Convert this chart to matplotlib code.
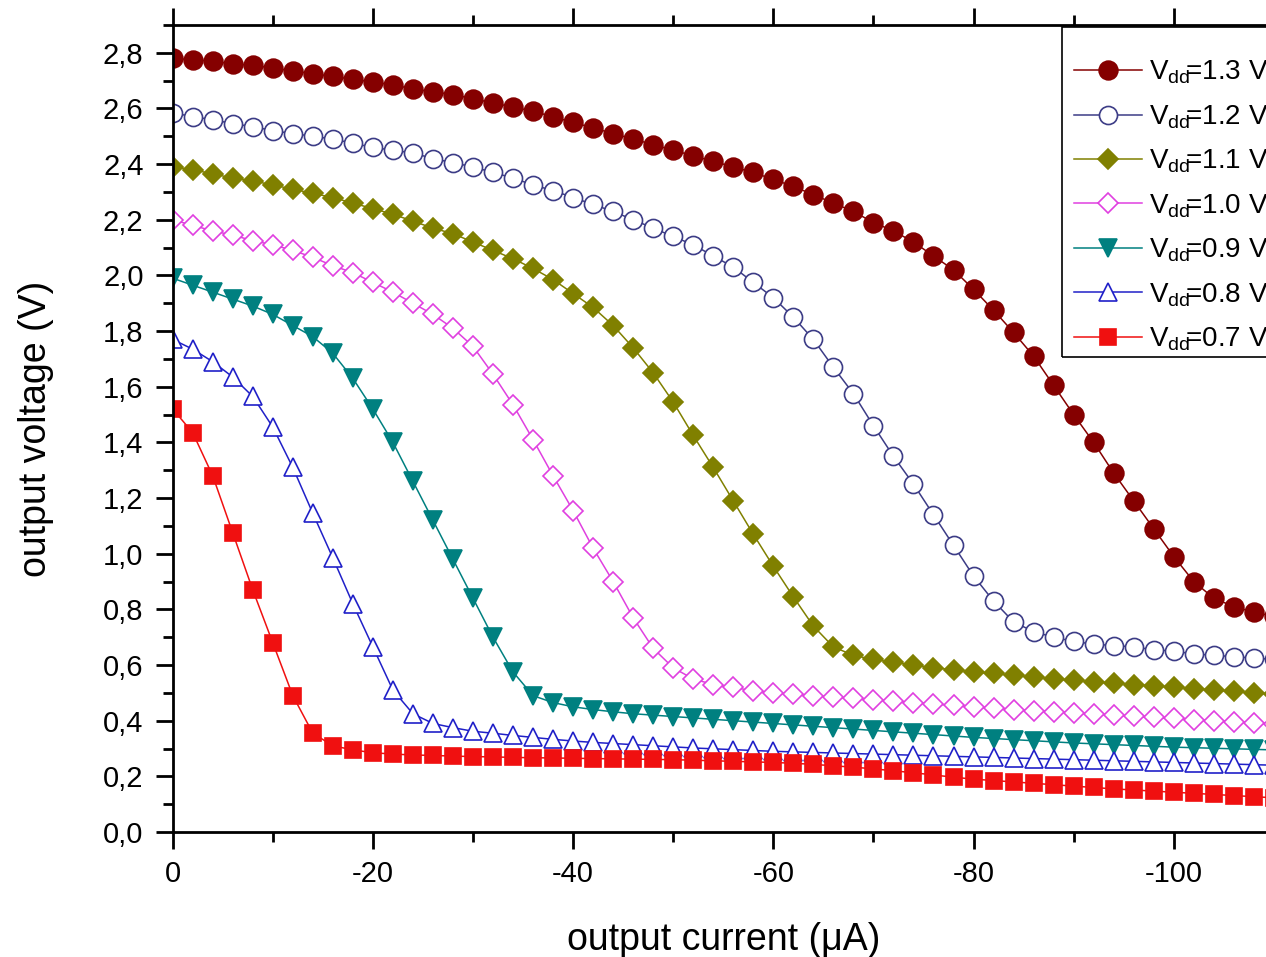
import matplotlib
matplotlib.use('Agg')
import matplotlib.pyplot as plt
from matplotlib.patches import Rectangle
from matplotlib.ticker import MultipleLocator, FixedLocator, FixedFormatter

plt.rcParams['font.family'] = ['Liberation Sans', 'DejaVu Sans']
plt.rcParams['mathtext.default'] = 'regular'
plt.rcParams['axes.unicode_minus'] = False

# output current grid (uA), one point every 2 uA
current = list(range(0, -112, -2))

# output voltage (V)
v13 = [2.78, 2.775, 2.77, 2.76, 2.755, 2.745, 2.735, 2.725, 2.715, 2.705,
       2.695, 2.685, 2.67, 2.66, 2.65, 2.635, 2.62, 2.605, 2.59, 2.57,
       2.55, 2.53, 2.51, 2.49, 2.47, 2.45, 2.43, 2.41, 2.39, 2.37,
       2.345, 2.32, 2.29, 2.26, 2.23, 2.19, 2.16, 2.12, 2.07, 2.02,
       1.95, 1.875, 1.795, 1.71, 1.605, 1.50, 1.40, 1.29, 1.19, 1.09,
       0.99, 0.90, 0.84, 0.81, 0.79, 0.775]
v12 = [2.585, 2.57, 2.56, 2.545, 2.535, 2.52, 2.51, 2.50, 2.49, 2.475,
       2.46, 2.45, 2.44, 2.42, 2.405, 2.39, 2.37, 2.35, 2.325, 2.305,
       2.28, 2.255, 2.23, 2.20, 2.17, 2.14, 2.11, 2.07, 2.03, 1.975,
       1.92, 1.85, 1.77, 1.67, 1.575, 1.46, 1.35, 1.25, 1.14, 1.03,
       0.92, 0.83, 0.755, 0.72, 0.70, 0.685, 0.675, 0.67, 0.665, 0.655,
       0.65, 0.64, 0.635, 0.63, 0.625, 0.62]
v11 = [2.39, 2.38, 2.365, 2.35, 2.34, 2.325, 2.31, 2.295, 2.28, 2.26,
       2.24, 2.22, 2.195, 2.17, 2.15, 2.12, 2.09, 2.06, 2.025, 1.985,
       1.935, 1.885, 1.82, 1.74, 1.65, 1.545, 1.425, 1.31, 1.19, 1.07,
       0.955, 0.845, 0.74, 0.665, 0.635, 0.62, 0.61, 0.60, 0.59, 0.583,
       0.575, 0.57, 0.563, 0.557, 0.55, 0.545, 0.54, 0.535, 0.53, 0.525,
       0.52, 0.515, 0.51, 0.505, 0.50, 0.495]
v10 = [2.20, 2.18, 2.16, 2.145, 2.125, 2.11, 2.09, 2.065, 2.035, 2.01,
       1.975, 1.94, 1.90, 1.86, 1.81, 1.745, 1.645, 1.535, 1.41, 1.28,
       1.155, 1.02, 0.90, 0.77, 0.66, 0.59, 0.55, 0.53, 0.52, 0.507,
       0.50, 0.495, 0.49, 0.485, 0.48, 0.475, 0.47, 0.465, 0.46, 0.455,
       0.45, 0.445, 0.44, 0.436, 0.432, 0.428, 0.424, 0.42, 0.416, 0.412,
       0.408, 0.404, 0.40, 0.396, 0.392, 0.388]
v09 = [1.99, 1.965, 1.94, 1.915, 1.89, 1.86, 1.82, 1.78, 1.72, 1.63,
       1.52, 1.40, 1.26, 1.12, 0.98, 0.84, 0.70, 0.575, 0.49, 0.465,
       0.45, 0.44, 0.432, 0.425, 0.42, 0.415, 0.41, 0.405, 0.40, 0.395,
       0.39, 0.385, 0.38, 0.375, 0.37, 0.365, 0.36, 0.355, 0.35, 0.345,
       0.34, 0.336, 0.332, 0.328, 0.324, 0.32, 0.317, 0.314, 0.311, 0.308,
       0.305, 0.303, 0.301, 0.299, 0.297, 0.295]
v08 = [1.77, 1.735, 1.69, 1.635, 1.565, 1.455, 1.31, 1.145, 0.985, 0.82,
       0.665, 0.51, 0.425, 0.39, 0.375, 0.362, 0.355, 0.347, 0.34, 0.333,
       0.327, 0.322, 0.318, 0.314, 0.31, 0.306, 0.302, 0.299, 0.296, 0.293,
       0.29, 0.288, 0.286, 0.284, 0.282, 0.28, 0.278, 0.276, 0.274, 0.272,
       0.27, 0.268, 0.266, 0.264, 0.262, 0.26, 0.258, 0.256, 0.254, 0.252,
       0.25, 0.248, 0.246, 0.244, 0.242, 0.24]
v07 = [1.52, 1.435, 1.28, 1.075, 0.87, 0.68, 0.49, 0.355, 0.31, 0.295,
       0.285, 0.28, 0.277, 0.275, 0.273, 0.271, 0.27, 0.268, 0.267, 0.266,
       0.265, 0.264, 0.263, 0.262, 0.261, 0.26, 0.258, 0.256, 0.254, 0.252,
       0.25, 0.247, 0.243, 0.238, 0.233, 0.227, 0.22, 0.213, 0.205, 0.197,
       0.19, 0.185, 0.18, 0.175, 0.17, 0.165, 0.16, 0.155, 0.151, 0.147,
       0.143, 0.139, 0.135, 0.131, 0.127, 0.123]

vdd_labels = ['1.3', '1.2', '1.1', '1.0', '0.9', '0.8', '0.7']
y_ticks = [0.0, 0.2, 0.4, 0.6, 0.8, 1.0, 1.2, 1.4, 1.6, 1.8, 2.0, 2.2, 2.4, 2.6, 2.8]
y_tick_labels = ['0,0', '0,2', '0,4', '0,6', '0,8', '1,0', '1,2', '1,4',
                 '1,6', '1,8', '2,0', '2,2', '2,4', '2,6', '2,8']
x_ticks = [0, -20, -40, -60, -80, -100]
x_tick_labels = ['0', '-20', '-40', '-60', '-80', '-100']

# (values, marker, colour, filled, markersize)
styles = [
    (v13, 'o', '#850000', True, 13.5),
    (v12, 'o', '#3c3c86', False, 13),
    (v11, 'D', '#808000', True, 10.5),
    (v10, 'D', '#e040e0', False, 10.5),
    (v09, 'v', '#008080', True, 13),
    (v08, '^', '#2020c8', False, 13),
    (v07, 's', '#f01010', True, 11),
]

fig = plt.figure(figsize=(12.66, 9.57), dpi=100)
ax = fig.add_axes([0.1364, 0.1306, 0.8698, 0.8433])

for (vals, mk, col, filled, ms), lab in zip(styles, vdd_labels):
    ax.plot(current, vals, marker=mk, color=col, lw=1.1, ms=ms,
            mfc=col if filled else 'white', mec=col, mew=1.2,
            label='V$_{dd}\\!$=' + lab + ' V')

ax.set_xlim(0, -110)
ax.set_ylim(0, 2.9)

ax.xaxis.set_major_locator(FixedLocator(x_ticks))
ax.xaxis.set_major_formatter(FixedFormatter(x_tick_labels))
ax.xaxis.set_minor_locator(MultipleLocator(10))
ax.yaxis.set_major_locator(FixedLocator(y_ticks))
ax.yaxis.set_major_formatter(FixedFormatter(y_tick_labels))
ax.yaxis.set_minor_locator(MultipleLocator(0.1))

ax.tick_params(which='both', direction='out', top=True, right=False,
               width=2.0, labelsize=21)
ax.tick_params(which='major', length=12)
ax.tick_params(which='minor', length=7)
ax.tick_params(axis='x', pad=8)
ax.tick_params(axis='y', pad=9)
for sp in ax.spines.values():
    sp.set_linewidth(2.0)

ax.set_xlabel('output current (\u03bcA)', fontsize=27)
ax.set_ylabel('output voltage (V)', fontsize=27)
ax.xaxis.set_label_coords(0.5, -0.111)
ax.yaxis.set_label_coords(-0.108, 0.5)

# legend entries without their own frame; box drawn separately
leg = ax.legend(loc='upper left', bbox_to_anchor=(0.8077, 0.9725),
                borderaxespad=0, fontsize=20, frameon=False,
                handlelength=2.45, handletextpad=0.27,
                labelspacing=0.61, borderpad=0.42)
ax.add_patch(Rectangle((0.8077, 0.5886), 0.3, 0.409, transform=ax.transAxes,
                       fill=False, edgecolor='black', lw=1.2, clip_on=False,
                       zorder=5))

fig.savefig('out.png', dpi=100)
